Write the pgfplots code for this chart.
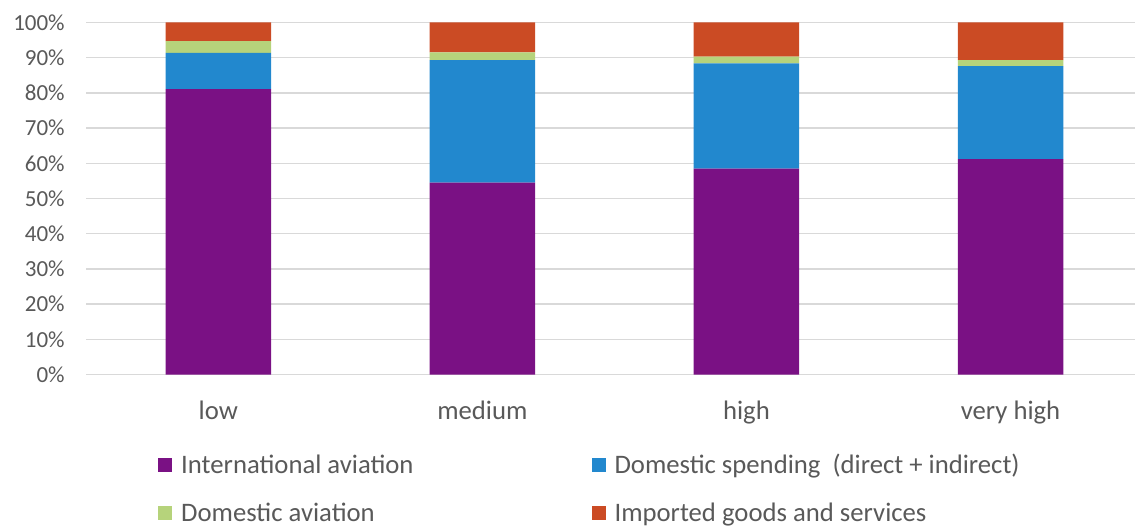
\documentclass[border=0pt]{standalone}
\usepackage{pgfplots}
\pgfplotsset{compat=1.18}
\usepackage{fontspec}
\setmainfont{Carlito}
\definecolor{cIA}{HTML}{7A1184}
\definecolor{cDS}{HTML}{2288CE}
\definecolor{cDA}{HTML}{B6D37B}
\definecolor{cIG}{HTML}{CB4B24}
\definecolor{txt}{HTML}{595959}
\definecolor{grd}{HTML}{D9D9D9}
\begin{document}
\begin{tikzpicture}[x=1pt,y=1pt]
\useasboundingbox (0,0) rectangle (1135,525);
\begin{axis}[
  at={(86.2pt,150.5pt)}, anchor=south west,
  scale only axis, width=1056.4pt, height=352pt,
  ybar stacked, bar width=105.5pt,
  xmin=-0.5, xmax=3.5, ymin=0, ymax=100,
  xtick={0,1,2,3}, xticklabels={low,medium,high,very high},
  ytick={0,10,...,100},
  yticklabel={\pgfmathprintnumber{\tick}\%},
  /pgf/number format/assume math mode=true,
  axis line style={draw=none},
  major tick length=0pt,
  ymajorgrids, grid style={grd, line width=1.3pt},
  yticklabel style={font=\fontsize{23}{27}\selectfont, text=txt, xshift=-18pt},
  xticklabel style={font=\fontsize{26.7}{31}\selectfont, text=txt, yshift=-23pt},
  legend columns=2,
  legend cell align=left,
  legend style={draw=none, fill=none, at={(axis description cs:0.068,-0.22)}, anchor=north west,
    font=\fontsize{26.7}{31}\selectfont, text=txt, inner sep=0pt,
    /tikz/every odd column/.append style={column sep=7pt},
    /tikz/every even column/.append style={column sep=176pt},
    row sep=24pt},
  legend image code/.code={\fill[#1] (0pt,-7pt) rectangle (14pt,7pt);},
]
\addplot[fill=cIA, draw=none] coordinates {(0,81.1) (1,54.5) (2,58.5) (3,61.2)};
\addlegendentry{International aviation}
\addplot[fill=cDS, draw=none] coordinates {(0,10.3) (1,34.8) (2,29.9) (3,26.4)};
\addlegendentry{Domestic spending\ \ (direct + indirect)}
\addplot[fill=cDA, draw=none] coordinates {(0,3.3) (1,2.2) (2,1.9) (3,1.7)};
\addlegendentry{Domestic aviation}
\addplot[fill=cIG, draw=none] coordinates {(0,5.3) (1,8.5) (2,9.7) (3,10.7)};
\addlegendentry{Imported goods and services}
\end{axis}
\end{tikzpicture}
\end{document}
